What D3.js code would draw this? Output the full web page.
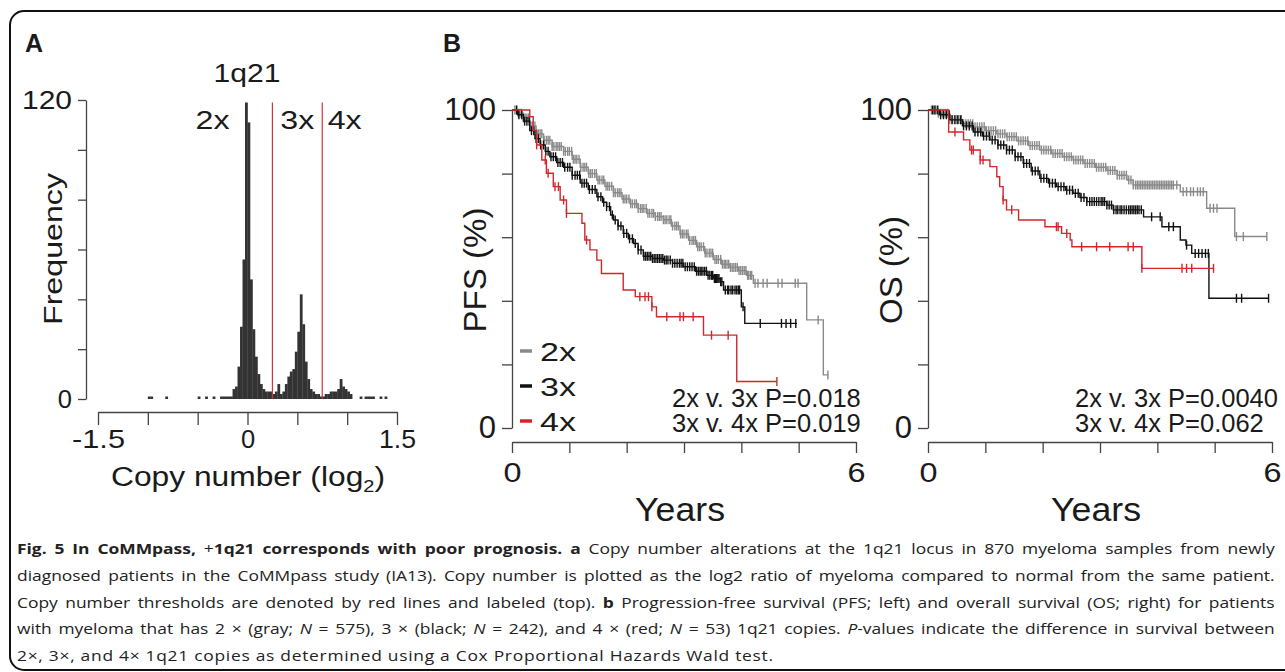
<!DOCTYPE html>
<html>
<head>
<meta charset="utf-8">
<script src="https://cdn.jsdelivr.net/npm/d3@7"></script>
<style>
  body { margin: 0; background: #fff; }
  #wrap { position: relative; width: 1285px; height: 672px; overflow: hidden; }
  svg { position: absolute; left: 0; top: 0; }
  #caption { position: absolute; left: 17px; top: 536px; width: 1048px;
             transform: scaleX(1.2); transform-origin: 0 0;
             font-family: "Open Sans", "Noto Sans", sans-serif; font-size: 14.5px;
             line-height: 26.75px; color: #222; }
  #caption div { text-align: justify; text-align-last: justify; white-space: nowrap; }
  #caption div.last { text-align-last: left; letter-spacing: 0.6px; }
</style>
</head>
<body>
<div id="wrap">
  <svg id="fig" width="1285" height="672"></svg>
  <div id="caption"></div>
</div>
<script>
// ---- panel A : 1q21 copy number histogram (log2), bins of 0.025
const binWidth = 0.025;
const binStart = [-1.0, -0.975, -0.825, -0.5, -0.425, -0.35, -0.275, -0.25, -0.225, -0.2, -0.175,
  -0.15, -0.125, -0.1, -0.075, -0.05, -0.025, 0, 0.025, 0.05, 0.075, 0.1, 0.125, 0.15, 0.175,
  0.2, 0.225, 0.25, 0.275, 0.3, 0.325, 0.35, 0.375, 0.4, 0.425, 0.45, 0.475, 0.5, 0.525, 0.55,
  0.575, 0.6, 0.625, 0.65, 0.675, 0.7, 0.725, 0.75, 0.775, 0.8, 0.825, 0.85, 0.875, 0.9, 0.925,
  0.95, 0.975, 1.0, 1.025, 1.125, 1.175, 1.2, 1.225, 1.25, 1.325, 1.375];
const binCount = [1, 1, 1, 1, 1, 1, 1, 1, 1, 1, 1,
  4, 5, 13, 29, 56, 119, 111, 48, 28, 17, 10, 6, 4, 3,
  3, 3, 2, 3, 6, 2, 3, 6, 9, 11, 12, 19, 27, 42, 30,
  15, 8, 4, 3, 2, 2, 1, 1, 2, 2, 3, 3, 3, 4, 8,
  5, 4, 3, 2, 1, 1, 1, 1, 1, 1, 1];
const thresholds = [0.25, 0.75];
const thresholdLabels = ['2x', '3x', '4x'];
const histXTicks = [-1.5, -1, -0.5, 0, 0.5, 1, 1.5];
const histYTicks = [0, 20, 40, 60, 80, 100, 120];

// ---- panel B : Kaplan-Meier curves [years, survival %]
const yearTicks = [0, 1, 2, 3, 4, 5, 6];
const pctTicks = [0, 20, 40, 60, 80, 100];
const groups = ['2x', '3x', '4x'];
const groupColors = ['#8a8a8a', '#111111', '#d3262b'];

const pfs2x = [[0,100],[0.1,99],[0.2,97.5],[0.31,95],[0.42,92.5],[0.55,90.5],[0.7,88.5],[0.9,87],
  [1.05,84.5],[1.19,82],[1.33,80],[1.48,78],[1.62,76],[1.77,74],[1.92,72],[2.06,70.5],[2.2,69],
  [2.35,67.5],[2.5,66.5],[2.64,65.5],[2.78,63.5],[2.93,61],[3.08,59],[3.22,57],[3.36,55],[3.51,53],
  [3.65,51.5],[3.8,50.5],[3.95,49.5],[4.09,48],[4.21,45.5],[5.14,34],[5.43,16.7],[5.52,16.7]];
const pfs2xCens = [0.05,0.08,0.11,0.14,0.17,0.2,0.23,0.26,0.29,0.33,0.36,0.4,0.43,0.46,0.49,0.52,
  0.56,0.6,0.63,0.66,0.7,0.73,0.77,0.8,0.83,0.86,0.9,0.93,0.97,1.0,1.04,1.07,1.1,1.13,1.17,1.2,1.24,
  1.27,1.3,1.34,1.37,1.4,1.44,1.47,1.5,1.53,1.57,1.6,1.64,1.67,1.7,1.74,1.77,1.8,1.84,1.87,1.9,1.94,
  1.97,2.0,2.04,2.07,2.1,2.14,2.17,2.2,2.24,2.27,2.3,2.34,2.37,2.4,2.44,2.47,2.5,2.54,2.57,2.6,2.64,
  2.67,2.7,2.74,2.77,2.8,2.84,2.87,2.9,2.94,2.97,3.0,3.04,3.07,3.1,3.14,3.17,3.2,3.24,3.27,3.3,3.34,
  3.37,3.4,3.44,3.47,3.5,3.54,3.57,3.6,3.64,3.67,3.7,3.72,3.75,3.78,3.81,3.84,3.87,3.9,3.93,3.96,
  3.99,4.02,4.05,4.08,4.11,4.13,4.16,4.18,4.24,4.29,4.38,4.45,4.64,4.71,4.94,4.99,5.34,5.51];
const pfs3x = [[0,100],[0.1,98.5],[0.2,96.5],[0.31,93.5],[0.4,91],[0.49,89],[0.58,87],[0.66,85.3],
  [0.78,83.5],[0.9,82],[1.05,79.5],[1.19,77],[1.33,75],[1.48,72.7],[1.58,71],[1.65,69.6],[1.72,67],
  [1.77,65.4],[1.85,63.5],[1.94,61.2],[2.03,59.5],[2.12,58],[2.2,56],[2.29,54],[2.45,53.3],[2.64,52.8],
  [2.8,51.8],[2.99,50.7],[3.2,49.3],[3.4,48],[3.52,47],[3.63,46],[3.69,43.4],[4.0,38.1],[4.06,32.9],
  [4.97,32.9]];
const pfs3xCens = [0.08,0.12,0.17,0.22,0.26,0.3,0.34,0.38,0.42,0.46,0.5,0.55,0.59,0.63,0.68,0.72,
  0.76,0.8,0.84,0.88,0.92,0.97,1.01,1.05,1.1,1.14,1.18,1.22,1.26,1.3,1.35,1.4,1.45,1.5,1.55,1.6,1.65,
  1.7,1.75,1.8,1.85,1.9,1.95,2.0,2.05,2.1,2.15,2.2,2.25,2.3,2.33,2.36,2.39,2.42,2.45,2.48,2.51,2.54,
  2.57,2.6,2.63,2.66,2.69,2.72,2.76,2.8,2.84,2.88,2.92,2.95,2.98,3.02,3.06,3.1,3.14,3.18,3.22,3.25,
  3.28,3.3,3.33,3.36,3.39,3.42,3.45,3.48,3.5,3.53,3.55,3.57,3.59,3.61,3.64,3.66,3.72,3.76,3.78,3.82,
  3.85,3.89,3.92,3.95,3.97,4.03,4.33,4.7,4.78,4.86,4.95];
const pfs4x = [[0,100],[0.31,97.9],[0.37,93.6],[0.43,89],[0.52,84.3],[0.6,80.1],[0.72,75.9],
  [0.84,71.7],[0.95,67.5],[1.22,64.4],[1.27,59.1],[1.36,56],[1.48,52.8],[1.56,48.6],[1.94,43.4],
  [2.15,41.3],[2.44,38.1],[2.52,35],[3.34,29.2],[3.92,14.6],[4.62,14.6]];
const pfs4xCens = [0.43,0.58,0.63,0.75,0.81,0.9,0.95,1.3,2.23,2.32,2.38,2.44,2.7,2.93,2.99,3.16,
  3.48,3.77,4.62];

const os2x = [[0,100],[0.15,99],[0.38,97],[0.6,95.7],[0.79,94.7],[1.0,93.5],[1.2,92.5],[1.37,91.6],
  [1.55,90.3],[1.75,88.8],[1.95,87.4],[2.15,86.3],[2.35,85.3],[2.53,84.3],[2.72,83.2],[2.92,82],
  [3.12,81],[3.3,79.5],[3.47,78],[3.58,76.4],[4.4,74.3],[4.86,69.1],[5.35,60.2],[5.91,60.2]];
const os2xCens = [0.06,0.1,0.14,0.18,0.22,0.26,0.3,0.34,0.38,0.42,0.46,0.5,0.54,0.58,0.62,0.66,0.7,
  0.74,0.78,0.82,0.86,0.9,0.94,0.98,1.02,1.06,1.1,1.14,1.18,1.22,1.26,1.3,1.34,1.38,1.42,1.46,1.5,
  1.54,1.58,1.62,1.66,1.7,1.74,1.78,1.82,1.86,1.9,1.94,1.98,2.02,2.06,2.1,2.14,2.18,2.22,2.26,2.3,
  2.34,2.38,2.42,2.46,2.5,2.54,2.58,2.62,2.66,2.7,2.74,2.78,2.82,2.86,2.9,2.94,2.98,3.02,3.06,3.1,
  3.14,3.18,3.22,3.26,3.3,3.34,3.38,3.42,3.46,3.5,3.54,3.58,3.62,3.65,3.68,3.71,3.74,3.77,3.8,3.83,
  3.86,3.89,3.92,3.95,3.98,4.01,4.04,4.07,4.1,4.13,4.16,4.19,4.22,4.25,4.28,4.34,4.45,4.51,4.58,
  4.63,4.7,4.75,4.8,4.92,4.98,5.04,5.38,5.5,5.91];
const os3x = [[0,100],[0.2,98.5],[0.38,96.9],[0.6,95],[0.79,93.1],[0.95,91.8],[1.08,90.6],[1.22,89],
  [1.37,87.4],[1.52,85.3],[1.66,83.2],[1.8,80.8],[1.95,78.5],[2.1,77],[2.24,75.9],[2.4,74.8],
  [2.53,73.8],[2.65,72.5],[2.77,71.2],[3.12,70.1],[3.23,68.6],[3.76,66.4],[4.08,63.3],[4.4,59.1],
  [4.5,57.5],[4.6,54.9],[4.9,40.8],[5.94,40.8]];
const os3xCens = [0.08,0.12,0.17,0.22,0.27,0.32,0.37,0.42,0.47,0.52,0.57,0.62,0.67,0.72,0.77,0.82,
  0.87,0.92,0.97,1.02,1.07,1.12,1.17,1.22,1.27,1.32,1.37,1.42,1.47,1.52,1.57,1.62,1.67,1.72,1.77,
  1.82,1.87,1.92,1.97,2.02,2.07,2.12,2.17,2.22,2.27,2.32,2.37,2.42,2.47,2.52,2.57,2.62,2.67,2.72,
  2.77,2.82,2.86,2.9,2.94,2.98,3.02,3.05,3.08,3.12,3.16,3.2,3.24,3.28,3.31,3.35,3.38,3.42,3.46,3.5,
  3.53,3.56,3.59,3.62,3.65,3.68,3.72,3.9,4.05,4.2,4.28,4.51,4.66,4.72,4.78,4.84,4.89,5.38,5.47,5.94];
const os4x = [[0,100],[0.36,93.1],[0.62,90.6],[0.73,87.4],[0.91,84.3],[1.08,82.2],[1.2,79],
  [1.25,75.9],[1.31,71.7],[1.37,68.6],[1.58,65.4],[2.04,63.3],[2.33,61.2],[2.48,59.1],[2.51,57],
  [3.73,50.2],[4.98,50.2]];
const os4xCens = [0.47,0.76,0.79,0.91,0.96,1.31,1.46,2.24,2.27,2.42,2.68,2.94,3.17,3.49,3.58,3.73,
  4.43,4.51,4.6,4.98];

const pfsPvals = ['2x v. 3x P=0.018', '3x v. 4x P=0.019'];
const osPvals = ['2x v. 3x P=0.0040', '3x v. 4x P=0.062'];

const captionLines = [
  '<b>Fig. 5 In CoMMpass, </b>+<b>1q21 corresponds with poor prognosis. a</b> Copy number alterations at the 1q21 locus in 870 myeloma samples from newly',
  'diagnosed patients in the CoMMpass study (IA13). Copy number is plotted as the log2 ratio of myeloma compared to normal from the same patient.',
  'Copy number thresholds are denoted by red lines and labeled (top). <b>b</b> Progression-free survival (PFS; left) and overall survival (OS; right) for patients',
  'with myeloma that has 2 × (gray; <i>N</i> = 575), 3 × (black; <i>N</i> = 242), and 4 × (red; <i>N</i> = 53) 1q21 copies. <i>P</i>-values indicate the difference in survival between',
  '2×, 3×, and 4× 1q21 copies as determined using a Cox Proportional Hazards Wald test.'
];

const FONT = "'Liberation Sans', Arial, Helvetica, sans-serif";
const AXIS = '#444';
const svg = d3.select('#fig');

// rounded frame
svg.append('rect')
  .attr('x', 10).attr('y', 11).attr('width', 1290).attr('height', 659).attr('rx', 14)
  .attr('fill', 'none').attr('stroke', '#111').attr('stroke-width', 2);

function label(g, txt, x, y, o = {}) {
  const t = g.append('text')
    .attr('x', x).attr('y', y)
    .attr('font-family', FONT)
    .attr('font-size', o.size || 25)
    .attr('font-weight', o.bold ? 'bold' : 'normal')
    .attr('text-anchor', o.anchor || 'start')
    .attr('fill', '#1a1a1a')
    .text(txt);
  if (o.len) t.attr('textLength', o.len).attr('lengthAdjust', 'spacingAndGlyphs');
  if (o.rotate) t.attr('transform', `rotate(-90,${x},${y})`);
  return t;
}

function styleAxis(g, size) {
  g.attr('font-family', FONT).attr('font-size', size);
  g.selectAll('path, line').attr('stroke', AXIS).attr('stroke-width', 1.3);
  g.selectAll('text').attr('fill', '#1a1a1a');
}

// ================= panel A =================
const hx = d3.scaleLinear().domain([-1.5, 1.5]).range([98, 397]);
const hy = d3.scaleLinear().domain([0, 120]).range([399, 100]);
const gA = svg.append('g');

gA.selectAll('rect.bar')
  .data(binStart.map((b, i) => ({ x0: b, n: binCount[i] })))
  .join('rect')
  .attr('class', 'bar')
  .attr('x', d => hx(d.x0))
  .attr('width', d => hx(d.x0 + binWidth) - hx(d.x0) + 0.3)
  .attr('y', d => hy(d.n))
  .attr('height', d => hy(0) - hy(d.n))
  .attr('fill', '#333');

gA.selectAll('line.thr')
  .data(thresholds)
  .join('line')
  .attr('x1', d => hx(d)).attr('x2', d => hx(d))
  .attr('y1', hy(119)).attr('y2', hy(0))
  .attr('stroke', '#d0343c').attr('stroke-width', 1.2);

const yAxA = gA.append('g').attr('transform', 'translate(86,0)')
  .call(d3.axisLeft(hy).tickValues(histYTicks).tickSize(8).tickSizeOuter(0).tickPadding(6)
    .tickFormat(d => (d === 0 || d === 120) ? d : ''));
styleAxis(yAxA, 25.5);
yAxA.selectAll('text').filter(d => d === 120).attr('textLength', 50).attr('lengthAdjust', 'spacingAndGlyphs');

const xAxA = gA.append('g').attr('transform', 'translate(0,412)')
  .call(d3.axisBottom(hx).tickValues(histXTicks).tickSize(13).tickSizeOuter(0).tickPadding(5)
    .tickFormat(d => (d === 0 || Math.abs(d) === 1.5) ? d : ''));
styleAxis(xAxA, 25.5);
xAxA.selectAll('text').each(function (d) {
  if (d === -1.5) d3.select(this).attr('textLength', 53).attr('lengthAdjust', 'spacingAndGlyphs');
  if (d === 1.5) d3.select(this).attr('textLength', 37).attr('lengthAdjust', 'spacingAndGlyphs');
});

label(gA, 'A', 25, 52, { bold: true, size: 25 });
label(gA, '1q21', 247, 82, { size: 25.5, anchor: 'middle', len: 67 });
const thrPos = [hx(-0.35), hx(0.5), hx(0.975)];
thresholdLabels.forEach((t, i) => label(gA, t, thrPos[i], 129, { size: 26, anchor: 'middle', len: 34 }));
label(gA, 'Frequency', 62, 249, { size: 26, anchor: 'middle', len: 152, rotate: true });
const cn = label(gA, 'Copy number (log', 248, 486, { size: 27, anchor: 'middle', len: 274 });
cn.append('tspan').attr('font-size', 17).attr('dy', 6).text('2');
cn.append('tspan').attr('dy', -6).text(')');

// ================= panel B =================
function survAt(steps, t) {
  let s = steps[0][1];
  for (const p of steps) { if (p[0] <= t) s = p[1]; else break; }
  return s;
}

function kmPanel(x0, series, yLabel, yLabelLen, pvals, pvalX) {
  const x = d3.scaleLinear().domain([0, 6]).range([x0, x0 + 344]);
  const y = d3.scaleLinear().domain([0, 100]).range([428, 110]);
  const g = svg.append('g');

  const yAx = g.append('g').attr('transform', `translate(${x0},0)`)
    .call(d3.axisLeft(y).tickValues(pctTicks).tickSize(10).tickSizeOuter(0).tickPadding(6)
      .tickFormat(d => (d === 0 || d === 100) ? d : ''));
  styleAxis(yAx, 31);

  const xAx = g.append('g').attr('transform', 'translate(0,442)')
    .call(d3.axisBottom(x).tickValues(yearTicks).tickSize(11).tickSizeOuter(0).tickPadding(9)
      .tickFormat(d => (d === 0 || d === 6) ? d : ''));
  styleAxis(xAx, 28);
  xAx.selectAll('text').attr('textLength', 18).attr('lengthAdjust', 'spacingAndGlyphs');

  const line = d3.line().x(d => x(d[0])).y(d => y(d[1])).curve(d3.curveStepAfter);
  series.forEach((s, i) => {
    g.append('path').datum(s.steps)
      .attr('d', line).attr('fill', 'none')
      .attr('stroke', groupColors[i]).attr('stroke-width', 1.4);
    g.selectAll(null).data(s.cens).join('line')
      .attr('x1', t => x(t)).attr('x2', t => x(t))
      .attr('y1', t => y(survAt(s.steps, t)) - 4.5)
      .attr('y2', t => y(survAt(s.steps, t)) + 4.5)
      .attr('stroke', groupColors[i]).attr('stroke-width', 1.4);
  });

  label(g, yLabel, x0 - 26, 270, { size: 32, anchor: 'middle', len: yLabelLen, rotate: true });
  label(g, 'Years', x0 + 168, 521, { size: 33, anchor: 'middle', len: 90 });
  pvals.forEach((p, i) => label(g, p, pvalX, 407 + 25 * i, { size: 25.5 }));
  return g;
}

const gP = kmPanel(512, [
  { steps: pfs2x, cens: pfs2xCens },
  { steps: pfs3x, cens: pfs3xCens },
  { steps: pfs4x, cens: pfs4xCens }
], 'PFS (%)', 125, pfsPvals, 672);

kmPanel(928, [
  { steps: os2x, cens: os2xCens },
  { steps: os3x, cens: os3xCens },
  { steps: os4x, cens: os4xCens }
], 'OS (%)', 108, osPvals, 1075);

label(svg, 'B', 443, 52, { bold: true, size: 25 });

// legend
groups.forEach((gname, i) => {
  const by = 361 + 35 * i;
  gP.append('line').attr('x1', 520).attr('x2', 532).attr('y1', by - 10).attr('y2', by - 10)
    .attr('stroke', groupColors[i]).attr('stroke-width', 3.5);
  label(gP, gname, 540, by, { size: 26, len: 36 });
});

// caption
d3.select('#caption').selectAll('div')
  .data(captionLines)
  .join('div')
  .attr('class', (d, i) => i === captionLines.length - 1 ? 'last' : null)
  .html(d => d);
</script>
</body>
</html>
